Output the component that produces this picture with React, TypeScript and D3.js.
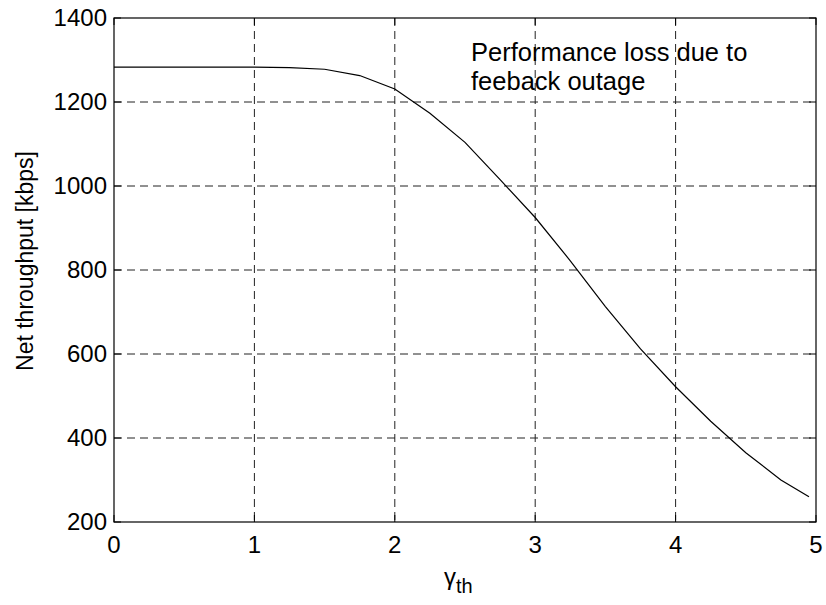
import React from "react";
import * as d3 from "d3";

const gammaTh = [0, 0.25, 0.5, 0.75, 1.0, 1.25, 1.5, 1.75, 2.0, 2.25, 2.5, 2.75, 3.0, 3.25, 3.5, 3.75, 4.0, 4.25, 4.5, 4.75, 4.95];
const throughput = [1283, 1283, 1283, 1283, 1283, 1282, 1278, 1263, 1231, 1173, 1104, 1015, 925, 822, 713, 612, 522, 440, 365, 300, 260];
const xTicks = [0, 1, 2, 3, 4, 5];
const yTicks = [200, 400, 600, 800, 1000, 1200, 1400];
const annotationLines = ["Performance loss due to", "feeback outage"];

const W = 826;
const H = 605;
const left = 114;
const right = 816;
const top = 18;
const bottom = 522;
const FONT = "'Liberation Sans', Arial, Helvetica, sans-serif";

export default function App() {
  const x = d3.scaleLinear().domain([0, 5]).range([left, right]);
  const y = d3.scaleLinear().domain([200, 1400]).range([bottom, top]);
  const line = d3
    .line<number>()
    .x((_, i) => x(gammaTh[i]))
    .y((d) => y(d));
  const path = line(throughput) || "";

  return (
    <svg width={W} height={H} style={{ position: "absolute", left: 0, top: 0, background: "#fff" }}>
      <rect x={0} y={0} width={W} height={H} fill="#fff" />
      {/* grid */}
      {xTicks.slice(1, -1).map((t) => (
        <line key={"gx" + t} x1={x(t)} x2={x(t)} y1={top} y2={bottom} stroke="#222" strokeWidth={1} strokeDasharray="8,5" />
      ))}
      {yTicks.slice(1, -1).map((t) => (
        <line key={"gy" + t} x1={left} x2={right} y1={y(t)} y2={y(t)} stroke="#222" strokeWidth={1} strokeDasharray="8,5" />
      ))}
      {/* ticks */}
      {xTicks.map((t) => (
        <g key={"tx" + t}>
          <line x1={x(t)} x2={x(t)} y1={bottom} y2={bottom - 7} stroke="#000" />
          <line x1={x(t)} x2={x(t)} y1={top} y2={top + 7} stroke="#000" />
          <text x={x(t)} y={553} textAnchor="middle" fontFamily={FONT} fontSize={24} fill="#000">
            {t}
          </text>
        </g>
      ))}
      {yTicks.map((t) => (
        <g key={"ty" + t}>
          <line x1={left} x2={left + 7} y1={y(t)} y2={y(t)} stroke="#000" />
          <line x1={right} x2={right - 7} y1={y(t)} y2={y(t)} stroke="#000" />
          <text x={107} y={y(t) + 8} textAnchor="end" fontFamily={FONT} fontSize={24} fill="#000">
            {t}
          </text>
        </g>
      ))}
      {/* data */}
      <path d={path} fill="none" stroke="#000" strokeWidth={1.2} />
      {/* box */}
      <rect x={left} y={top} width={right - left} height={bottom - top} fill="none" stroke="#000" strokeWidth={1.2} />
      {/* annotation */}
      {annotationLines.map((s, i) => (
        <text key={s} x={471} y={61 + i * 29} fontFamily={FONT} fontSize={25.5} fill="#000">
          {s}
        </text>
      ))}
      {/* axis labels */}
      <text transform={`translate(33,261) rotate(-90)`} textAnchor="middle" fontFamily={FONT} fontSize={23} fill="#000">
        Net throughput [kbps]
      </text>
      <text x={444} y={585} fontFamily={FONT} fontSize={24} fill="#000">
        γ<tspan fontSize={20} dy={8}>th</tspan>
      </text>
    </svg>
  );
}
